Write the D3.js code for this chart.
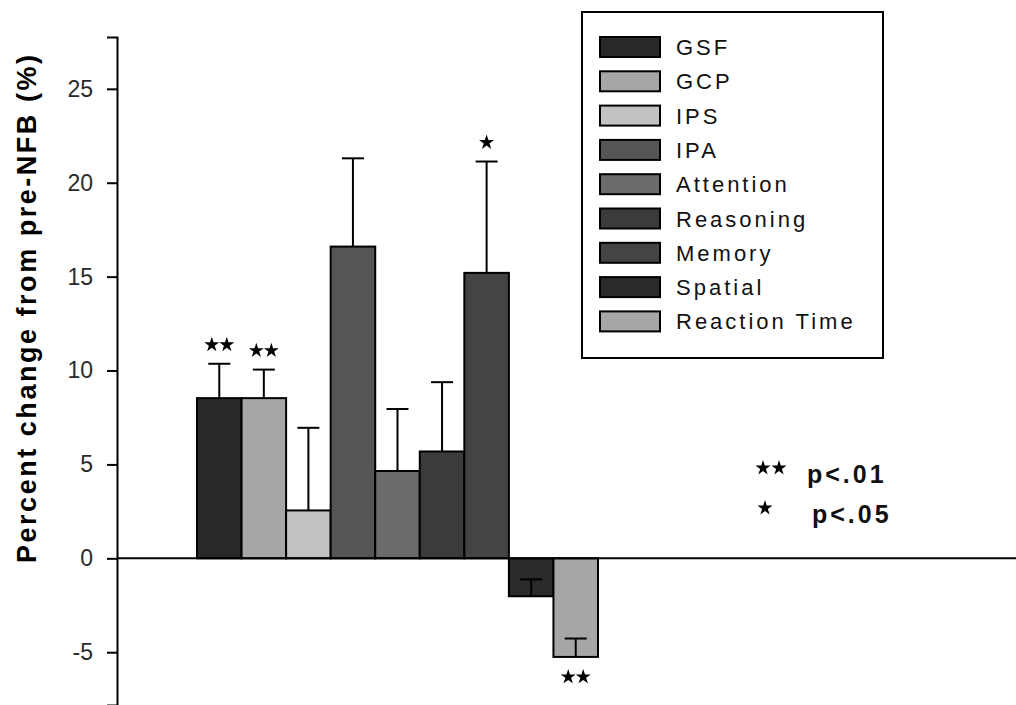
<!DOCTYPE html>
<html><head><meta charset="utf-8">
<script src="https://cdn.jsdelivr.net/npm/d3@7"></script>
<style>body{margin:0;background:#fff}svg{display:block}</style>
</head><body>
<svg id="chart" width="1016" height="705"></svg>
<script>
const categories = ["GSF","GCP","IPS","IPA","Attention","Reasoning","Memory","Spatial","Reaction Time"];
const values = [8.53, 8.53, 2.55, 16.6, 4.65, 5.69, 15.2, -2.02, -5.25];
const errors = [1.83, 1.52, 4.4, 4.7, 3.3, 3.69, 5.93, 0.9, 0.98];
const significance = ["**","**","","","","","*","","**"];
const barColors = ["#282828","#a6a6a6","#c2c2c2","#555555","#6b6b6b","#3b3b3b","#444444","#2a2a2a","#a6a6a6"];
const yTicks = [-5, 0, 5, 10, 15, 20, 25];
const yTitle = "Percent change from pre-NFB (%)";
const sigLegend = [["**","p<.01"],["*","p<.05"]];

const svg = d3.select("#chart");
const W = 1016, H = 705;
const axisX = 117;

const y = d3.scaleLinear().domain([-7.81, 27.76]).range([705, 37]);
const x = d3.scaleBand().domain(categories).range([197, 598]).padding(0);

// bars
svg.append("g").selectAll("rect").data(categories).join("rect")
  .attr("x", d => x(d))
  .attr("width", x.bandwidth())
  .attr("y", (d,i) => y(Math.max(0, values[i])))
  .attr("height", (d,i) => Math.abs(y(values[i]) - y(0)))
  .attr("fill", (d,i) => barColors[i])
  .attr("stroke", "#000").attr("stroke-width", 2);

// error bars (drawn from value in positive direction)
const eb = svg.append("g").attr("stroke", "#000").attr("stroke-width", 2);
categories.forEach((c,i) => {
  const cx = x(c) + x.bandwidth()/2;
  const v = values[i], e = values[i] + errors[i];
  eb.append("line").attr("x1", cx).attr("x2", cx).attr("y1", y(v)).attr("y2", y(e));
  eb.append("line").attr("x1", cx-11).attr("x2", cx+11).attr("y1", y(e)).attr("y2", y(e));
});

// zero line
svg.append("line").attr("x1", axisX).attr("x2", W).attr("y1", y(0)).attr("y2", y(0))
  .attr("stroke", "#000").attr("stroke-width", 2);

// y axis
const yAxis = d3.axisLeft(y).tickValues(yTicks).tickSize(10).tickPadding(14).tickFormat(d => String(d));
const gy = svg.append("g").attr("transform", `translate(${axisX},0)`).call(yAxis);
gy.select(".domain").attr("stroke", "#000").attr("stroke-width", 2);
gy.selectAll(".tick line").attr("stroke", "#000").attr("stroke-width", 2);
gy.selectAll(".tick text").attr("font-family", "Arial, 'Liberation Sans', sans-serif")
  .attr("font-size", 23).attr("fill", "#2a2a2a");

// y title
svg.append("text")
  .attr("transform", "translate(36,309) rotate(-90)")
  .attr("text-anchor", "middle")
  .attr("font-family", "Arial, 'Liberation Sans', sans-serif")
  .attr("font-weight", "bold").attr("font-size", 27)
  .attr("textLength", 508).attr("lengthAdjust", "spacing")
  .text(yTitle);

// stars
const star = d3.symbol().type(d3.symbolStar).size(70);
function drawStars(g, str, cx, cy, gap) {
  const n = str.length;
  for (let k = 0; k < n; k++) {
    const sx = cx + (k - (n-1)/2) * gap;
    g.append("path").attr("d", star()).attr("transform", `translate(${sx},${cy})`).attr("fill", "#000");
  }
}
const sg = svg.append("g");
categories.forEach((c,i) => {
  if (!significance[i]) return;
  const cx = x(c) + x.bandwidth()/2;
  const v = values[i];
  const cy = v >= 0 ? y(v + errors[i]) - 19 : y(v) + 20;
  drawStars(sg, significance[i], cx, cy, 15);
});

// legend
const lg = svg.append("g");
lg.append("rect").attr("x", 582).attr("y", 12).attr("width", 301).attr("height", 346)
  .attr("fill", "#fff").attr("stroke", "#000").attr("stroke-width", 2);
categories.forEach((c,i) => {
  const cy = 47 + i*34.3;
  lg.append("rect").attr("x", 600).attr("y", cy-10).attr("width", 60).attr("height", 20)
    .attr("fill", barColors[i]).attr("stroke", "#000").attr("stroke-width", 2);
  lg.append("text").attr("x", 676).attr("y", cy+8)
    .attr("font-family", "Arial, 'Liberation Sans', sans-serif").attr("font-size", 22)
    .attr("letter-spacing", "3px").attr("fill", "#111").text(c);
});

// significance legend
sigLegend.forEach((d,i) => {
  const cy = 470 + i*40;
  drawStars(svg, d[0], d[0].length === 2 ? 771 : 765, cy - 2, 16);
  svg.append("text").attr("x", i === 0 ? 807 : 812).attr("y", cy + 13)
    .attr("font-family", "Arial, 'Liberation Sans', sans-serif").attr("font-weight", "bold")
    .attr("font-size", 25).attr("letter-spacing", "3px").attr("fill", "#111").text(d[1]);
});
</script>
</body></html>
